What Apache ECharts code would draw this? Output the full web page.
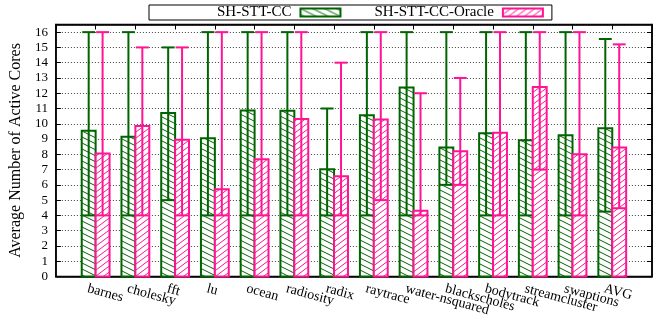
<!DOCTYPE html>
<html><head><meta charset="utf-8">
<script src="https://cdn.jsdelivr.net/npm/echarts@6/dist/echarts.min.js"></script>
<style>html,body{margin:0;padding:0;background:#fff}#c{width:657px;height:322px}</style>
</head><body><div id="c"></div>
<script>
const categories = ['barnes','cholesky','fft','lu','ocean','radiosity','radix','raytrace','water-nsquared','blackscholes','bodytrack','streamcluster','swaptions','AVG'];
const ccAvg = [9.55, 9.15, 10.7, 9.05, 10.87, 10.85, 7.03, 10.55, 12.38, 8.45, 9.38, 8.92, 9.25, 9.7];
const ccMin = [4, 4, 5, 4, 4, 4, 4, 4, 4, 6, 4, 4, 4, 4.25];
const ccMax = [16, 16, 15, 16, 16, 16, 11, 16, 16, 16, 16, 16, 16, 15.55];
const orAvg = [8.05, 9.85, 8.95, 5.72, 7.68, 10.32, 6.57, 10.28, 4.3, 8.2, 9.42, 12.4, 8.0, 8.45];
const orMin = [4, 4, 4, 4, 4, 4, 4, 5, 4, 6, 4, 7, 4, 4.47];
const orMax = [16, 15, 15, 16, 16, 16, 14, 16, 12, 13, 16, 16, 16, 15.2];
const seriesNames = ['SH-STT-CC', 'SH-STT-CC-Oracle'];

const GREEN = '#006400', PINK = '#ff1493';
const FONT = "'Liberation Serif','Times New Roman',serif";

function makeHatch(color, w, h, dir) {
  const c = document.createElement('canvas');
  c.width = w; c.height = h;
  const ctx = c.getContext('2d');
  ctx.fillStyle = '#fff'; ctx.fillRect(0, 0, w, h);
  ctx.strokeStyle = color; ctx.lineWidth = 1;
  for (let k = -1; k <= 1; k++) {
    ctx.beginPath();
    if (dir > 0) { ctx.moveTo(0, k * h); ctx.lineTo(w, (k + 1) * h); }
    else { ctx.moveTo(0, (k + 1) * h); ctx.lineTo(w, k * h); }
    ctx.stroke();
  }
  return c;
}
const greenPat = { image: makeHatch(GREEN, 12, 6, 1), repeat: 'repeat' };
const pinkPat = { image: makeHatch(PINK, 8, 6, -1), repeat: 'repeat' };

function build(avg, mn, mx) {
  return categories.map((_, i) => [i, avg[i], mn[i], mx[i]]);
}

function makeRender(color, pat, side) {
  return function (params, api) {
    const x = api.value(0);
    const bw = api.size([0.35, 0])[0];
    const cx0 = api.coord([x, 0])[0];
    const left = side < 0 ? cx0 - bw : cx0;
    const cx = left + bw / 2;
    const y0 = api.coord([x, 0])[1];
    const ya = api.coord([x, api.value(1)])[1];
    const ymn = api.coord([x, api.value(2)])[1];
    const ymx = api.coord([x, api.value(3)])[1];
    const capW = bw - 1;
    return {
      type: 'group',
      children: [
        { type: 'rect', shape: { x: left, y: ya, width: bw, height: y0 - ya },
          style: { fill: pat, stroke: color, lineWidth: 2 } },
        { type: 'line', shape: { x1: cx, y1: ymn, x2: cx, y2: ymx },
          style: { stroke: color, lineWidth: 2 } },
        { type: 'line', shape: { x1: cx - capW / 2, y1: ymn, x2: cx + capW / 2, y2: ymn },
          style: { stroke: color, lineWidth: 2 } },
        { type: 'line', shape: { x1: cx - capW / 2, y1: ymx, x2: cx + capW / 2, y2: ymx },
          style: { stroke: color, lineWidth: 2 } }
      ]
    };
  };
}

// label axis ticks every 0.2; category i is labelled at value i - 0.2
function catLabel(v) {
  const s = v + 0.2;
  const r = Math.round(s);
  return (Math.abs(s - r) < 1e-4 && r >= 0 && r < categories.length) ? categories[r] : '';
}

const chart = echarts.init(document.getElementById('c'), null, { renderer: 'canvas' });
const axisLine = { show: true, onZero: false, lineStyle: { color: '#000', width: 1.5 } };
chart.setOption({
  animation: false,
  backgroundColor: '#fff',
  textStyle: { fontFamily: FONT },
  legend: {
    left: 149, top: 5,
    data: seriesNames,
    align: 'right',
    icon: 'rect',
    itemWidth: 40, itemHeight: 8, itemGap: 33,
    padding: [0, 8, 0, 68],
    borderColor: '#000', borderWidth: 1,
    textStyle: { fontFamily: FONT, fontSize: 15, color: '#000', padding: [0, 4, 0, 0] }
  },
  grid: { left: 52, right: 5, top: 24.5, bottom: 45.5, show: true, borderColor: '#000', borderWidth: 1.5, backgroundColor: 'transparent' },
  xAxis: [
    { type: 'value', min: -1, max: 14, interval: 0.2, position: 'bottom',
      axisLine: axisLine, axisTick: { show: false }, splitLine: { show: false },
      axisLabel: { show: true, rotate: -15, margin: 12, fontSize: 14, fontFamily: FONT, color: '#000',
        hideOverlap: false, showMinLabel: true, showMaxLabel: true, formatter: catLabel } },
    { type: 'value', min: -1, max: 14, interval: 1, position: 'top',
      axisLine: axisLine, axisTick: { show: true, inside: true, length: 5, lineStyle: { color: '#000' } },
      axisLabel: { show: false }, splitLine: { show: false } }
  ],
  yAxis: [
    { type: 'value', min: 0, max: 16.5, interval: 1, position: 'left',
      name: 'Average Number of Active Cores', nameLocation: 'middle', nameGap: 23,
      nameTextStyle: { fontFamily: FONT, fontSize: 16, color: '#000' },
      axisLine: axisLine, axisTick: { show: true, inside: true, length: 5, lineStyle: { color: '#000' } },
      axisLabel: { margin: 8, fontSize: 13, fontFamily: FONT, color: '#000', formatter: v => Number.isInteger(v) ? String(v) : '' },
      splitLine: { show: true, lineStyle: { color: '#444', width: 1, type: [1, 2] } } },
    { type: 'value', min: 0, max: 16.5, interval: 1, position: 'right',
      axisLine: axisLine, axisTick: { show: true, inside: true, length: 5, lineStyle: { color: '#000' } },
      axisLabel: { show: false }, splitLine: { show: false } }
  ],
  series: [
    { name: seriesNames[0], type: 'custom', xAxisIndex: 1, yAxisIndex: 0,
      renderItem: makeRender(GREEN, greenPat, -1),
      itemStyle: { color: greenPat, borderColor: GREEN, borderWidth: 2 },
      encode: { x: 0, y: [1, 2, 3] },
      data: build(ccAvg, ccMin, ccMax), z: 2 },
    { name: seriesNames[1], type: 'custom', xAxisIndex: 1, yAxisIndex: 0,
      renderItem: makeRender(PINK, pinkPat, 1),
      itemStyle: { color: pinkPat, borderColor: PINK, borderWidth: 2 },
      encode: { x: 0, y: [1, 2, 3] },
      data: build(orAvg, orMin, orMax), z: 3 }
  ]
});
</script></body></html>
